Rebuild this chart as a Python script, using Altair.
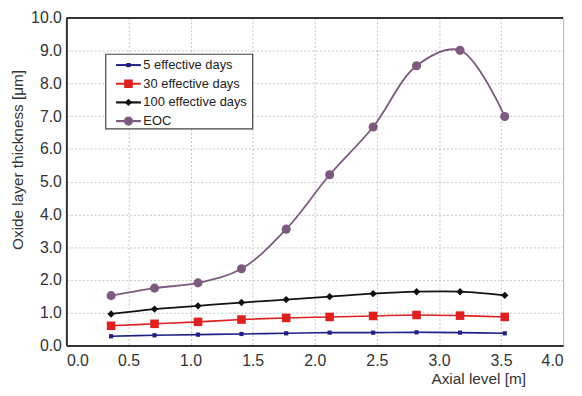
import altair as alt
import pandas as pd

axial = [0.36, 0.71, 1.06, 1.41, 1.77, 2.12, 2.47, 2.82, 3.17, 3.53]
series_names = ["5 effective days", "30 effective days", "100 effective days", "EOC"]
d5 = [0.28, 0.31, 0.33, 0.35, 0.37, 0.39, 0.39, 0.40, 0.39, 0.37]
d30 = [0.60, 0.66, 0.72, 0.79, 0.84, 0.87, 0.90, 0.93, 0.91, 0.87]
d100 = [0.96, 1.11, 1.21, 1.31, 1.40, 1.49, 1.58, 1.64, 1.64, 1.53]
eoc = [1.52, 1.75, 1.91, 2.34, 3.55, 5.21, 6.67, 8.54, 9.01, 6.99]
x_ticks = [0, 0.5, 1, 1.5, 2, 2.5, 3, 3.5, 4]
y_ticks = [0, 1, 2, 3, 4, 5, 6, 7, 8, 9, 10]

colors = ["#1f1f85", "#dd2020", "#111111", "#7d5b7f"]
shapes = ["square", "square", "diamond", "circle"]
sizes = [18, 75, 55, 85]
widths = [1.6, 1.6, 1.8, 1.8]

FONT = "Liberation Sans"

rows = []
for name, vals in zip(series_names, [d5, d30, d100, eoc]):
    for x, y in zip(axial, vals):
        rows.append({"series": name, "x": x, "y": y})
df = pd.DataFrame(rows)

xscale = alt.Scale(domain=[0, 4], nice=False)
yscale = alt.Scale(domain=[0, 10], nice=False)

xaxis = alt.Axis(values=x_ticks, format=".1f",
                 title="Axial level [m]", titleAnchor="end", titleAlign="right",
                 titleX=464, titleY=33, titleBaseline="middle",
                 labelPadding=7, labelOverlap=False)
yaxis = alt.Axis(values=y_ticks, format=".1f",
                 title="Oxide layer thickness [μm]", titleX=-49, titleY=143,
                 titleAngle=-90, titleBaseline="middle", titleAlign="center",
                 labelPadding=5, labelOverlap=False, labelSeparation=0)


def X(field):
    return alt.X(field, type="quantitative", scale=xscale, axis=xaxis)


def Y(field):
    return alt.Y(field, type="quantitative", scale=yscale, axis=yaxis)


layers = []
for i, name in enumerate(series_names):
    sub = df[df.series == name]
    base = alt.Chart(sub)
    line = base.mark_line(color=colors[i], strokeWidth=widths[i],
                          interpolate="catmull-rom").encode(x=X("x"), y=Y("y"))
    pts = base.mark_point(color=colors[i], filled=True, opacity=1,
                          shape=shapes[i], size=sizes[i]).encode(x=X("x"), y=Y("y"))
    layers += [line, pts]

top = alt.Chart(pd.DataFrame({"y": [10]})).mark_rule(color="#333333", strokeWidth=2).encode(
    y=Y("y"))

# legend (inside plot)
leg_y = [8.56, 7.99, 7.42, 6.85]
leg = pd.DataFrame({"series": series_names, "ly": leg_y,
                    "x0": [0.40] * 4, "x1": [0.60] * 4, "xm": [0.50] * 4, "xt": [0.62] * 4})
box = alt.Chart(pd.DataFrame({"a": [0.317], "b": [1.50], "c": [6.61], "d": [8.89]})).mark_rect(
    fill="white", stroke="#444444", strokeWidth=1.2).encode(
    x=X("a"), x2="b:Q", y=Y("c"), y2="d:Q")
legend_layers = [box]
for i, name in enumerate(series_names):
    sub = leg[leg.series == name]
    b = alt.Chart(sub)
    legend_layers.append(b.mark_rule(color=colors[i], strokeWidth=widths[i] + 0.4).encode(
        x=X("x0"), x2="x1:Q", y=Y("ly")))
    legend_layers.append(b.mark_point(color=colors[i], filled=True, opacity=1,
                                      shape=shapes[i], size=sizes[i]).encode(
        x=X("xm"), y=Y("ly")))
    legend_layers.append(b.mark_text(align="left", baseline="middle", font=FONT,
                                     fontSize=13, color="#222222").encode(
        x=X("xt"), y=Y("ly"), text="series:N"))

chart = alt.layer(*layers, top, *legend_layers).properties(
    width=502, height=331,
    autosize=alt.AutoSizeParams(type="none"),
    padding={"left": 59, "top": 8, "right": 11, "bottom": 40},
).configure_view(stroke="#b5b5b5", strokeWidth=1).configure_axis(
    labelFont=FONT, titleFont=FONT, labelFontSize=16, titleFontSize=15.5,
    labelColor="#333333", titleColor="#333333", titleFontWeight="normal",
    domainColor="#333333", domainWidth=2, ticks=False, labelOverlap=False,
    gridColor="#c4c4c4", gridDash=[2, 2], gridWidth=1,
).configure_axisY(labelOverlap=False)

chart.save("out.html", embed_options={"renderer": "svg", "actions": False})
